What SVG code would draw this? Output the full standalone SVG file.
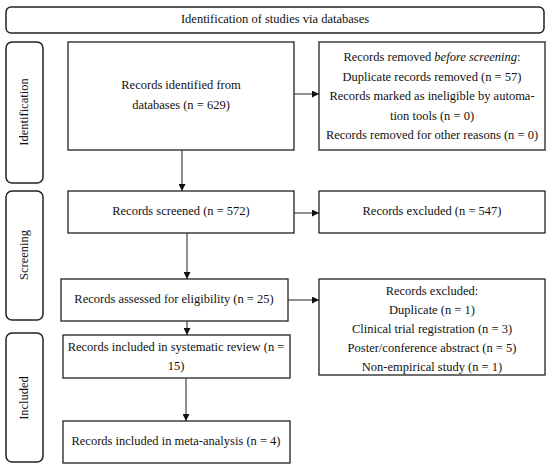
<svg xmlns="http://www.w3.org/2000/svg" width="550" height="471" viewBox="0 0 550 471">
<defs>
<style>
text{font-family:"Liberation Serif","Times New Roman",serif;font-size:12.5px;fill:#111;text-anchor:middle;dominant-baseline:middle}
.box{fill:#fff;stroke:#222;stroke-width:1.3}
.rbox{fill:#fff;stroke:#222;stroke-width:1.5}
.con{stroke:#222;stroke-width:1;fill:none;marker-end:url(#ah)}
</style>
<marker id="ah" viewBox="0 0 10 10" refX="10" refY="5" markerWidth="7" markerHeight="7" markerUnits="userSpaceOnUse" orient="auto">
<path d="M0,0 L10,5 L0,10 Z" fill="#111"/>
</marker>
</defs>
<rect width="550" height="471" fill="#fff"/>
<g id="banner"><rect class="rbox" x="6" y="7" width="538" height="26" rx="5"/><text x="275" y="20.5">Identification of studies via databases</text></g>
<g id="phase-identification"><rect class="rbox" x="6" y="42" width="37" height="141" rx="6"/><text transform="translate(25,112) rotate(-90)">Identification</text></g>
<g id="phase-screening"><rect class="rbox" x="6" y="191" width="37" height="129" rx="6"/><text transform="translate(25,255) rotate(-90)">Screening</text></g>
<g id="phase-included"><rect class="rbox" x="6" y="333" width="37" height="129" rx="6"/><text transform="translate(25,398) rotate(-90)">Included</text></g>

<g id="identified"><rect class="box" x="68" y="42" width="226" height="108"/><text x="181" y="86">Records identified from</text><text x="181" y="106">databases (n = 629)</text></g>
<g id="removed"><rect class="box" x="319" y="42" width="226" height="108"/>
<text x="432" y="58">Records removed <tspan font-style="italic">before screening</tspan>:</text>
<text x="432" y="78">Duplicate records removed (n = 57)</text>
<text x="432" y="97">Records marked as ineligible by automa-</text>
<text x="432" y="117">tion tools (n = 0)</text>
<text x="432" y="136">Records removed for other reasons (n = 0)</text></g>
<g id="screened"><rect class="box" x="68" y="191" width="226" height="42"/><text x="181" y="212">Records screened (n = 572)</text></g>
<g id="excluded1"><rect class="box" x="319" y="191" width="226" height="42"/><text x="432" y="212">Records excluded (n = 547)</text></g>
<g id="assessed"><rect class="box" x="61" y="279" width="227" height="42"/><text x="174" y="300">Records assessed for eligibility (n = 25)</text></g>
<g id="excluded2"><rect class="box" x="319" y="279" width="226" height="96"/>
<text x="432" y="292">Records excluded:</text>
<text x="432" y="311">Duplicate (n = 1)</text>
<text x="432" y="330">Clinical trial registration (n = 3)</text>
<text x="432" y="349">Poster/conference abstract (n = 5)</text>
<text x="432" y="368">Non-empirical study (n = 1)</text></g>
<g id="review"><rect class="box" x="63" y="335" width="227" height="43"/><text x="176" y="348">Records included in systematic review (n =</text><text x="176" y="367">15)</text></g>
<g id="meta"><rect class="box" x="63" y="421" width="227" height="42"/><text x="176" y="442">Records included in meta-analysis (n = 4)</text></g>

<g id="connectors">
<line class="con" x1="294" y1="94" x2="319" y2="94"/>
<line class="con" x1="182" y1="150" x2="182" y2="191"/>
<line class="con" x1="294" y1="213" x2="319" y2="213"/>
<line class="con" x1="187" y1="233" x2="187" y2="279"/>
<line class="con" x1="288" y1="300" x2="319" y2="300"/>
<line class="con" x1="187" y1="321" x2="187" y2="335"/>
<line class="con" x1="186" y1="378" x2="186" y2="421"/>
</g>
</svg>
